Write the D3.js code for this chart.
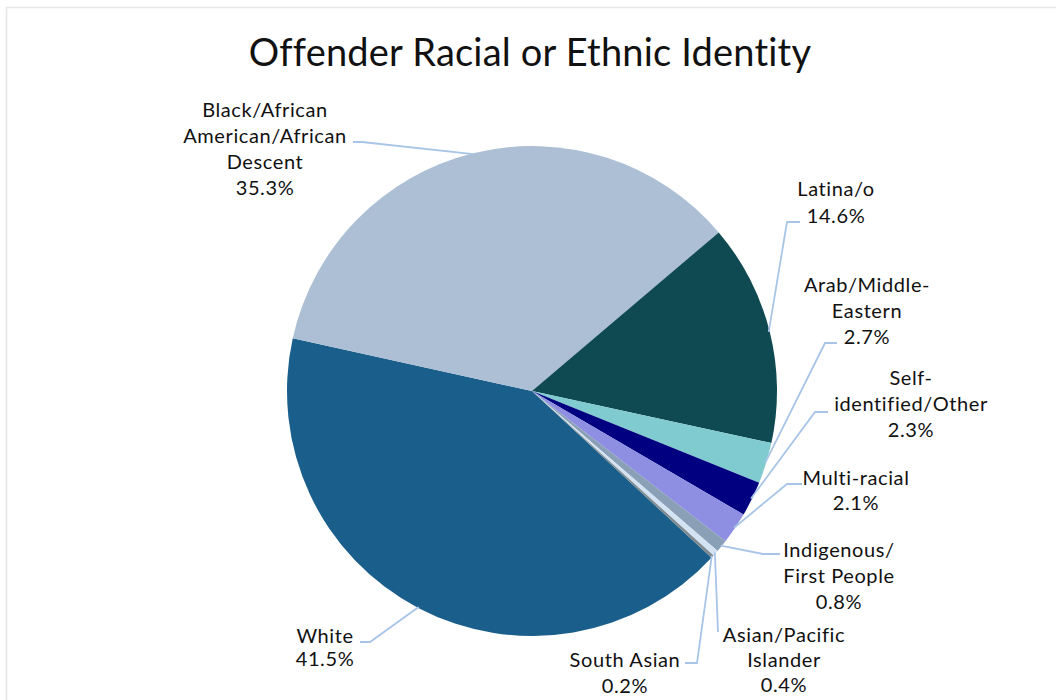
<!DOCTYPE html>
<html>
<head>
<meta charset="utf-8">
<script src="https://cdn.jsdelivr.net/npm/d3@7"></script>
<style>
  html, body { margin: 0; padding: 0; background: #ffffff; }
  svg { display: block; }
</style>
</head>
<body>
<svg id="chart" width="1056" height="700"></svg>
<script>
// ---- data ----
const title = "Offender Racial or Ethnic Identity";
const categories = [
  "White",
  "Black/African American/African Descent",
  "Latina/o",
  "Arab/Middle-Eastern",
  "Self-identified/Other",
  "Multi-racial",
  "Indigenous/First People",
  "Asian/Pacific Islander",
  "South Asian"
];
const values = [41.5, 35.3, 14.6, 2.7, 2.3, 2.1, 0.8, 0.4, 0.2];
const labelLines = [
  ["White"],
  ["Black/African", "American/African", "Descent"],
  ["Latina/o"],
  ["Arab/Middle-", "Eastern"],
  ["Self-", "identified/Other"],
  ["Multi-racial"],
  ["Indigenous/", "First People"],
  ["Asian/Pacific", "Islander"],
  ["South Asian"]
];

// ---- styles / layout ----
const colors = ["#1a5e8b", "#adbfd5", "#0f4a52", "#80cbcf", "#000080", "#8e8fe3", "#8aa0b6", "#d3e3f3", "#7f8a90"];
const cx = 532, cy = 391, radius = 245;
const startDeg = 132.9;
const fontFamily = "'Century Gothic', Lato, 'DejaVu Sans', sans-serif";
// label layout: text centre x, first baseline y, line height, leader anchor near text, elbow
const labelLayout = [
  { x: 325, y: 643, lh: 23, a: [360, 642], e: [370, 642] },
  { x: 265, y: 117, lh: 26, a: [353, 142], e: [362, 142] },
  { x: 836, y: 196, lh: 27, a: [800, 222], e: [787, 222] },
  { x: 867, y: 292, lh: 26, a: [837, 343], e: [825, 343] },
  { x: 911, y: 385, lh: 26, a: [828, 412], e: [815, 412] },
  { x: 856, y: 485, lh: 25, a: [802, 484], e: [787, 484] },
  { x: 839, y: 557, lh: 26, a: [780, 554], e: [763, 554] },
  { x: 784, y: 642, lh: 25, a: [718, 632], e: null },
  { x: 625, y: 667, lh: 26, a: [685, 663], e: [697, 663] }
];

const svg = d3.select("#chart");

// chart border
svg.append("rect")
  .attr("x", 6.5).attr("y", 7.5)
  .attr("width", 1100).attr("height", 760)
  .attr("fill", "#ffffff")
  .attr("stroke", "#e6e6e6")
  .attr("stroke-width", 1.5);

// title
svg.append("text")
  .attr("x", 530).attr("y", 66)
  .attr("text-anchor", "middle")
  .attr("font-family", fontFamily)
  .attr("font-size", 38)
  .attr("letter-spacing", 0.2)
  .attr("fill", "#111")
  .text(title);

const data = categories.map((c, i) => ({ name: c, value: values[i], i }));
const toRad = d => d * Math.PI / 180;
const pie = d3.pie().sort(null).value(d => d.value)
  .startAngle(toRad(startDeg)).endAngle(toRad(startDeg) + 2 * Math.PI);
const arcs = pie(data);
const arc = d3.arc().innerRadius(0).outerRadius(radius);

const g = svg.append("g").attr("transform", `translate(${cx},${cy})`);
g.selectAll("path.slice")
  .data(arcs)
  .join("path")
  .attr("class", "slice")
  .attr("d", arc)
  .attr("fill", d => colors[d.data.i])
  .attr("stroke", "none");

// leader lines and labels
const fmt = v => v.toFixed(1) + "%";
arcs.forEach(d => {
  const L = labelLayout[d.data.i];
  const mid = (d.startAngle + d.endAngle) / 2;
  const px = cx + Math.sin(mid) * (radius - 1);
  const py = cy - Math.cos(mid) * (radius - 1);
  const pts = [[px, py]];
  if (L.e) pts.push(L.e);
  pts.push(L.a);
  svg.append("path")
    .attr("d", d3.line()(pts))
    .attr("fill", "none")
    .attr("stroke", "#a8c5e8")
    .attr("stroke-width", 1.8);

  const lines = labelLines[d.data.i].concat([fmt(d.data.value)]);
  const t = svg.append("text")
    .attr("text-anchor", "middle")
    .attr("font-family", fontFamily)
    .attr("font-size", 20)
    .attr("letter-spacing", 0.6)
    .attr("fill", "#111");
  lines.forEach((s, k) => {
    t.append("tspan").attr("x", L.x).attr("y", L.y + k * L.lh).text(s);
  });
});
</script>
</body>
</html>
